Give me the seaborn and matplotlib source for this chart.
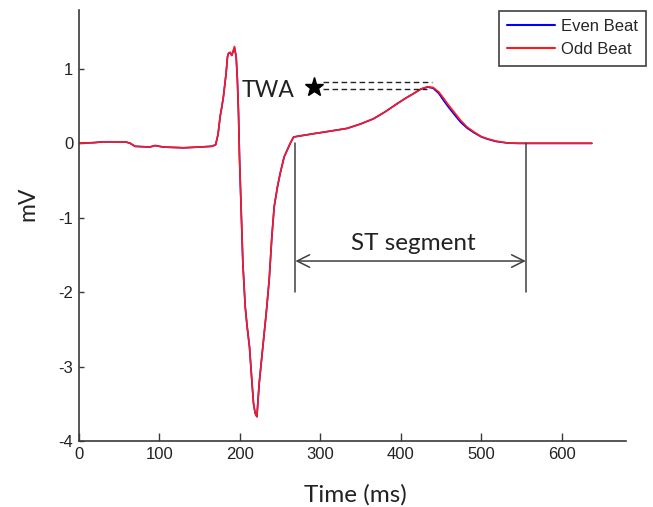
import numpy as np
import pandas as pd
import matplotlib
matplotlib.use("Agg")
import matplotlib.pyplot as plt
import seaborn as sns

# ---- beat-averaged ECG (ms, mV) ----
time_ms = [0, 20, 30, 58, 64, 70, 88, 95, 100, 105, 130, 150, 165, 170,
           173, 175.6, 177.7, 179.7, 183, 184.7, 186, 188, 190, 192, 193.4,
           195.5, 197, 198.4, 199.6, 201.3, 203.8, 206.7, 209, 212, 215, 217,
           219, 221.2, 224.1, 227.4, 232.8, 236.5, 239.8, 242.7, 246.8, 250.2,
           255.1, 262.6, 266.8, 275,
           292, 310, 333, 350, 366, 380, 395, 405, 416, 425, 433, 440, 447,
           452, 458, 466, 474, 482, 491, 500, 508, 518, 532, 545, 600, 637]

odd_beat = [0.00, 0.01, 0.02, 0.02, 0.00, -0.04, -0.05, -0.03, -0.04, -0.05,
            -0.06, -0.05, -0.04, -0.02,
            0.12, 0.36, 0.49, 0.63, 0.94, 1.16, 1.21, 1.22, 1.18, 1.25, 1.30,
            1.16, 0.85, 0.40, -0.18, -0.76, -1.61, -2.19, -2.45, -2.73, -3.18,
            -3.49, -3.62, -3.67, -3.22, -2.86, -2.28, -1.83, -1.25, -0.85,
            -0.58, -0.40, -0.18, 0.00, 0.085, 0.10,
            0.13, 0.16, 0.20, 0.26, 0.33, 0.42, 0.53, 0.60, 0.67, 0.73, 0.76,
            0.75, 0.69, 0.62, 0.53, 0.42, 0.31, 0.22, 0.15, 0.09, 0.06, 0.03,
            0.005, 0.00, 0.00, 0.00]

even_beat = [0.00, 0.01, 0.02, 0.02, 0.00, -0.04, -0.05, -0.03, -0.04, -0.05,
             -0.06, -0.05, -0.04, -0.02,
             0.12, 0.36, 0.49, 0.63, 0.94, 1.16, 1.21, 1.22, 1.18, 1.24, 1.28,
             1.16, 0.85, 0.40, -0.18, -0.76, -1.61, -2.19, -2.45, -2.73, -3.20,
             -3.49, -3.62, -3.67, -3.22, -2.86, -2.28, -1.83, -1.25, -0.85,
             -0.58, -0.40, -0.18, 0.00, 0.085, 0.10,
             0.13, 0.16, 0.20, 0.26, 0.33, 0.42, 0.53, 0.60, 0.67, 0.73, 0.755,
             0.74, 0.67, 0.59, 0.50, 0.39, 0.285, 0.205, 0.14, 0.085, 0.055,
             0.025, 0.005, 0.00, 0.00, 0.00]

series_names = ["Even Beat", "Odd Beat"]
series_colors = ["#0000ff", "#ff1a1a"]

x_ticks = [0, 100, 200, 300, 400, 500, 600]
y_ticks = [-4, -3, -2, -1, 0, 1]

# annotation anchors (ms, mV)
st_start, st_end = 269, 555
st_top, st_bottom, st_arrow_y = 0.0, -2.0, -1.58
twa_star = (291.5, 0.76)
twa_hi, twa_lo = 0.827, 0.725

df = pd.DataFrame({
    "Time (ms)": time_ms * 2,
    "mV": even_beat + odd_beat,
    "beat": [series_names[0]] * len(time_ms) + [series_names[1]] * len(time_ms),
})

sns.set_style("ticks")
plt.rcParams["font.family"] = ["Liberation Sans", "DejaVu Sans"]

fig = plt.figure(figsize=(6.53, 5.07), dpi=100)
ax = fig.add_axes([0.1205, 0.1296, 0.8389, 0.8507])

sns.lineplot(data=df, x="Time (ms)", y="mV", hue="beat",
             hue_order=series_names, palette=series_colors,
             linewidth=1.2, ax=ax, legend=True, sort=False)

ax.set_xlim(0, 680)
ax.set_ylim(-4, 1.79)
ax.set_xticks(x_ticks)
ax.set_yticks(y_ticks)
ax.set_xticklabels([str(v) for v in x_ticks])
ax.set_yticklabels([str(v) for v in y_ticks])

axis_col = "#3a3a3a"
for side in ["top", "right"]:
    ax.spines[side].set_visible(False)
for side in ["left", "bottom"]:
    ax.spines[side].set_color(axis_col)
    ax.spines[side].set_linewidth(1.2)
ax.tick_params(axis="both", direction="in", colors=axis_col, labelcolor="#222222",
               labelsize=12, width=1.0, pad=4)
ax.tick_params(axis="x", length=5.5)
ax.tick_params(axis="y", length=3.5)

label_font = ["Lato", "DejaVu Sans"]
ax.set_xlabel("Time (ms)", fontsize=17.5, family=label_font, color="#222222")
ax.set_ylabel("mV", fontsize=16.5, family=label_font, color="#222222")
ax.xaxis.set_label_coords(0.505, -0.099)
ax.yaxis.set_label_coords(-0.074, 0.550)

# ST segment bracket
ann_col = "#404040"
ax.plot([st_start, st_start], [st_top, st_bottom], color=ann_col, lw=1.1)
ax.plot([st_end, st_end], [st_top, st_bottom], color=ann_col, lw=1.1)
ax.annotate("", xy=(st_start, st_arrow_y), xytext=(st_end, st_arrow_y),
            arrowprops=dict(arrowstyle="<->,head_length=0.9,head_width=0.45",
                            color=ann_col, lw=1.1, shrinkA=0, shrinkB=0))
ax.text((st_start + st_end) / 2 + 3, -1.43, "ST segment", ha="center",
        va="baseline", fontsize=17.5, family=label_font, color="#222222")

# T-wave alternans marker
ax.plot(twa_star[0], twa_star[1], marker="*", markersize=14, color="black",
        linestyle="none")
ax.plot([303.7, 438.7], [twa_hi, twa_hi], color="#222222", lw=1.0,
        linestyle=(0, (4, 2.5)))
ax.plot([303.7, 432.5], [twa_lo, twa_lo], color="#222222", lw=1.0,
        linestyle=(0, (4, 2.5)))
ax.text(202, 0.62, "TWA", ha="left", va="baseline", fontsize=16.5,
        family=label_font, color="#222222")

leg = ax.legend(loc="upper right", bbox_to_anchor=(0.990, 0.979),
                bbox_transform=fig.transFigure, borderaxespad=0,
                fontsize=12, frameon=True, fancybox=False, framealpha=1,
                handlelength=2.9, handletextpad=0.35, labelspacing=0.5,
                borderpad=0.5, title=None)
leg.get_frame().set_edgecolor("#404040")
leg.get_frame().set_linewidth(1.2)
for line in leg.get_lines():
    line.set_linewidth(1.5)

fig.savefig("out.png", dpi=100)
